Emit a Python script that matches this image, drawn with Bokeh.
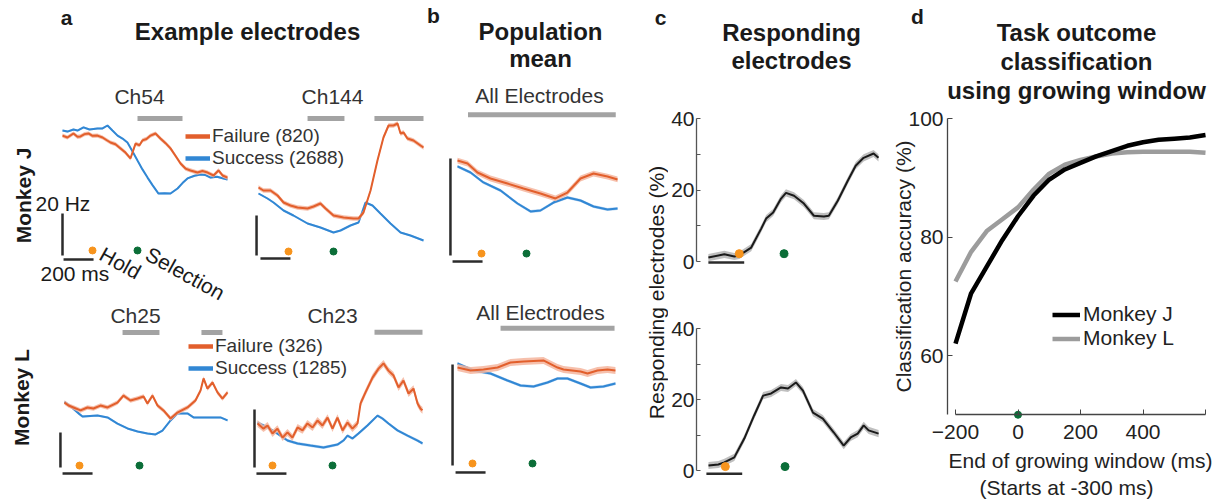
import numpy as np
from bokeh.plotting import figure
from bokeh.models import Range1d, Label, LinearAxis, FixedTicker, Legend, LegendItem, Grid
from bokeh.layouts import row, column
from bokeh.embed import file_html
from bokeh.resources import INLINE

FONT = "Liberation Sans"

# ======================= DATA =======================
outcome_names = ["Failure", "Success"]
trials_monkey_j = [820, 2688]
trials_monkey_l = [326, 1285]
event_names = ["Hold", "Selection"]

# (a) example electrodes, firing rate (Hz) vs time from selection (ms)
ch54_fail_t = [-500, -467, -440, -427, -400, -380, -353, -327, -300, -267, -233, -207, -180, -147, -113, -80, -47,
               -13, 13, 33, 60, 87, 120, 153, 187, 220, 253, 287, 320, 353, 400, 433, 467, 507, 540, 567, 600]
ch54_fail = [57.1, 56.2, 57.5, 58.1, 56.5, 56.7, 57.8, 58.1, 57.0, 57.1, 56.2, 55.0, 53.8, 53.0, 51.0, 49.0, 46.2,
             53.3, 52.5, 54.8, 55.5, 57.1, 58.1, 55.7, 53.5, 51.0, 47.5, 43.8, 41.4, 40.5, 39.5, 40.2, 39.5, 38.1,
             40.5, 38.1, 37.1]
ch54_succ_t = [-500, -467, -427, -400, -360, -320, -267, -233, -200, -167, -133, -100, -67, -33, 0, 33, 67, 100,
               140, 180, 220, 267, 300, 333, 380, 420, 453, 487, 530, 573, 600]
ch54_succ = [59.5, 59.0, 60.0, 59.5, 61.0, 60.0, 60.5, 60.5, 61.9, 59.5, 57.1, 55.7, 53.8, 49.5, 45.2, 41.0, 37.1,
             33.5, 29.5, 29.6, 29.5, 31.9, 34.5, 36.7, 38.0, 38.6, 38.3, 37.1, 37.5, 36.7, 36.2]
ch54_sig = [(0, 300)]

ch144_fail_t = [-500, -467, -420, -373, -333, -287, -240, -173, -133, -87, -53, 0, 67, 133, 167, 200, 247, 293,
                333, 367, 400, 427, 447, 467, 493, 533, 580, 600]
ch144_fail = [34, 32.5, 32.5, 30, 26.5, 25, 24, 23.5, 24.5, 26, 23.5, 20, 19, 18.5, 18.5, 21.5, 32.5, 47.5, 59,
              65, 65, 66, 61, 61.5, 58.5, 57.5, 55, 54]
ch144_succ_t = [-500, -440, -400, -333, -267, -173, -87, 0, 47, 113, 167, 213, 260, 313, 380, 447, 513, 600]
ch144_succ = [31, 28.5, 26.5, 22.5, 20, 16, 14, 11.5, 12.5, 15, 16.5, 26.5, 25, 21, 16, 11.5, 10, 7.5]
ch144_sig = [(-173, 73), (273, 600)]

ch25_fail_t = [-500, -473, -440, -393, -347, -307, -260, -213, -147, -107, -60, -13, 27, 53, 87, 120, 160, 207,
               253, 320, 373, 407, 427, 453, 487, 520, 553, 587]
ch25_fail = [37.1, 35.4, 34.3, 32.6, 34.3, 33.7, 35.4, 34.3, 37.1, 41.1, 38.3, 39.4, 40.6, 36.6, 41.1, 35.4, 32.6,
             28.0, 31.4, 34.3, 38.3, 44.0, 50.9, 45.1, 48.6, 42.9, 39.4, 42.9]
ch25_succ_t = [-500, -453, -400, -380, -280, -213, -147, -80, -13, 53, 107, 153, 207, 253, 320, 360, 407, 473,
               540, 587]
ch25_succ = [37.5, 34.5, 30.5, 29.1, 29.7, 28.6, 25.1, 22.3, 20.6, 19.4, 18.9, 21.1, 26.9, 30.9, 30.9, 28.6, 28.6,
             28.6, 28.6, 26.9]
ch25_sig = [(-113, 133), (413, 553)]

ch23_fail_t = [-500, -460, -433, -400, -367, -333, -300, -267, -233, -200, -167, -133, -100, -67, -33, 0, 33, 67,
               100, 133, 167, 187, 220, 267, 307, 340, 373, 407, 440, 473, 507, 540, 567, 587, 600]
ch23_fail = [15.2, 13.4, 14.5, 11.7, 13.4, 10.3, 12.1, 10.3, 13.8, 12.8, 15.2, 13.8, 16.2, 14.5, 17.2, 13.4, 17.2,
             12.8, 15.5, 13.4, 15.2, 22.1, 25.9, 31.0, 34.1, 35.9, 33.4, 31.7, 27.6, 30.0, 25.5, 27.2, 22.1, 20.3,
             19.7]
ch23_succ_t = [-500, -433, -367, -300, -233, -147, -60, 33, 73, 100, 133, 173, 233, 300, 333, 373, 433, 500, 567,
               600]
ch23_succ = [15.5, 13.8, 11.7, 9.3, 8.3, 7.6, 6.9, 7.9, 9.3, 11.0, 10.0, 11.7, 14.5, 17.9, 16.9, 15.2, 12.8, 11.0,
             9.3, 8.3]
ch23_sig = [(280, 600)]

# (b) population mean (Hz)
pop_j_fail_t = [-460, -393, -327, -240, -127, -20, 93, 193, 273, 360, 447, 540, 607]
pop_j_fail = [9.79, 9.48, 8.56, 7.94, 7.42, 6.91, 6.39, 5.88, 6.49, 7.94, 8.45, 8.14, 7.84]
pop_j_succ_t = [-460, -373, -287, -173, -60, 27, 93, 180, 273, 360, 447, 540, 607]
pop_j_succ = [9.18, 8.56, 7.53, 6.70, 5.36, 4.54, 4.64, 5.46, 5.98, 5.67, 5.05, 4.74, 4.85]
pop_j_sig = [(-390, 595)]

pop_l_fail_t = [-500, -413, -327, -233, -147, -60, 73, 167, 207, 320, 367, 433, 500, 553]
pop_l_fail = [9.70, 9.41, 9.50, 9.70, 10.20, 10.30, 10.40, 9.70, 9.50, 9.31, 9.11, 9.41, 9.50, 9.41]
pop_l_succ_t = [-500, -393, -280, -167, -80, 7, 100, 167, 233, 320, 387, 473, 553]
pop_l_succ = [10.10, 9.41, 9.11, 8.42, 7.92, 7.82, 8.22, 8.61, 8.61, 8.12, 7.72, 7.82, 8.12]
pop_l_sig = [(-213, 547)]

# (c) responding electrodes (%)
resp_j_t = [-507, -400, -333, -300, -220, -153, -120, -73, -20, 13, 67, 133, 200, 267, 300, 360, 427, 480, 533,
            600, 633]
resp_j = [1.1, 2.0, 1.4, 1.7, 3.9, 9.2, 12.0, 13.7, 17.6, 19.2, 18.4, 16.2, 12.8, 12.6, 12.8, 17.0, 22.6, 26.8,
          29.0, 30.2, 29.0]
resp_l_t = [-513, -447, -407, -340, -273, -207, -147, -93, -27, 20, 73, 120, 187, 253, 327, 393, 440, 487, 527,
            560, 627]
resp_l = [1.4, 1.7, 2.3, 3.7, 9.0, 15.5, 21.1, 21.7, 23.4, 23.1, 24.8, 22.5, 16.3, 14.6, 10.7, 7.0, 9.3, 10.4,
          12.7, 11.3, 10.4]
resp_ticks = [0, 20, 40]
resp_minor_ticks = [10, 30]

# (d) classification accuracy (%) vs end of growing window (ms)
window_end_ms = [-200, -150, -100, -50, 0, 50, 100, 150, 200, 250, 300, 350, 400, 450, 500, 550, 600]
acc_monkey_j = [62.0, 70.5, 75.0, 79.5, 83.5, 87.0, 89.7, 91.4, 92.5, 93.6, 94.5, 95.4, 96.0, 96.4, 96.6, 96.8, 97.2]
acc_monkey_l = [72.5, 77.5, 81.0, 83.0, 85.0, 88.0, 90.7, 92.2, 93.0, 93.6, 94.1, 94.3, 94.4, 94.4, 94.4, 94.4, 94.2]
d_xticks = [-200, 0, 200, 400, 600]
d_yticks = [60, 80, 100]

# ======================= STYLE / LAYOUT =======================
ORANGE, ORANGE_BAND = "#e25f2c", "#f4b59d"
BLUE, BLUE_BAND = "#3187d4", "#a9cdee"
HOLD_C, SEL_C = "#f7941d", "#0b6e38"
SIG_C, BAR_C = "#a3a3a3", "#2b2b2b"
TXT = "#1a1a1a"
H = 502
MAIN_W, C_W, D_W = 668, 222, 330
SX = 0.15        # px per ms in panels a-c
BASE_FIX = 7     # alphabetic baseline correction (px)


def clear_grids(fig):
    for g in fig.center:
        if isinstance(g, Grid):
            g.visible = False


def label(fig, fl, fb, X, Y, text, size=21, bold=False, align="center", baseline="alphabetic", angle=0,
          color=TXT):
    if baseline == "alphabetic":
        Y = Y - BASE_FIX
    fig.add_layout(Label(x=X - fl, y=fb - Y, x_units="screen", y_units="screen", text=text, text_font=FONT,
                         text_font_size=f"{size}px", text_font_style="bold" if bold else "normal",
                         text_align=align, text_baseline=baseline, angle=angle, angle_units="deg",
                         text_color=color))


def trace(fig, t, v, sem, color, band, width=2.0, **kw):
    t = np.asarray(t, float)
    v = np.asarray(v, float)
    fig.varea(x=t, y1=v - sem, y2=v + sem, fill_color=band, fill_alpha=0.85, **kw)
    return fig.line(t, v, line_color=color, line_width=width, **kw)


# ---------------- main figure (panels a, b) ----------------
main = figure(width=MAIN_W, height=H, x_range=Range1d(0, MAIN_W), y_range=Range1d(0, H),
              x_axis_location=None, y_axis_location=None, toolbar_location=None,
              output_backend="svg", min_border=0, outline_line_color=None)
clear_grids(main)
ML, MB = 0, H   # frame left / bottom in page px

panels = [
    dict(name="ch54", ft=ch54_fail_t, f=ch54_fail, st=ch54_succ_t, s=ch54_succ, sig=ch54_sig, x0=137, y0=255,
         sy=2.1, semf=1.0, sems=0.5, hold=-300, doty=2.4, vt=-500, vh=20, ht=-493, hy=-1.9, sigy=65.2),
    dict(name="ch144", ft=ch144_fail_t, f=ch144_fail, st=ch144_succ_t, s=ch144_succ, sig=ch144_sig, x0=333,
         y0=255, sy=2.0, semf=1.1, sems=0.5, hold=-300, doty=2.0, vt=-513, vh=20, ht=-487, hy=-1.5, sigy=68.5),
    dict(name="ch25", ft=ch25_fail_t, f=ch25_fail, st=ch25_succ_t, s=ch25_succ, sig=ch25_sig, x0=139, y0=467,
         sy=1.75, semf=1.3, sems=0.6, hold=-400, doty=1.1, vt=-527, vh=20, ht=-513, hy=-3.4, sigy=77.1),
    dict(name="ch23", ft=ch23_fail_t, f=ch23_fail, st=ch23_succ_t, s=ch23_succ, sig=ch23_sig, x0=332, y0=467,
         sy=2.9, semf=1.2, sems=0.5, hold=-400, doty=0.7, vt=-520, vh=20, ht=-507, hy=-2.1, sigy=46.6),
    dict(name="popj", ft=pop_j_fail_t, f=pop_j_fail, st=pop_j_succ_t, s=pop_j_succ, sig=pop_j_sig, x0=526,
         y0=255, sy=9.7, semf=0.3, sems=0.15, hold=-300, doty=0.2, vt=-507, vh=10, ht=-493, hy=-0.62, sigy=14.5),
    dict(name="popl", ft=pop_l_fail_t, f=pop_l_fail, st=pop_l_succ_t, s=pop_l_succ, sig=pop_l_sig, x0=532,
         y0=465, sy=10.1, semf=0.35, sems=0.15, hold=-400, doty=0.2, vt=-533, vh=10, ht=-513, hy=-0.69,
         sigy=13.6),
]

legend_renderers = {}
for pnl in panels:
    nm = pnl["name"]
    main.extra_x_ranges[nm] = Range1d(-(pnl["x0"] - ML) / SX, (MAIN_W - (pnl["x0"] - ML)) / SX)
    yb = MB - pnl["y0"]
    main.extra_y_ranges[nm] = Range1d(-yb / pnl["sy"], (H - yb) / pnl["sy"])
    kw = dict(x_range_name=nm, y_range_name=nm)
    main.segment(x0=[a for a, b in pnl["sig"]], x1=[b for a, b in pnl["sig"]],
                 y0=[pnl["sigy"]] * len(pnl["sig"]), y1=[pnl["sigy"]] * len(pnl["sig"]),
                 line_color=SIG_C, line_width=5, line_cap="butt", **kw)
    trace(main, pnl["st"], pnl["s"], pnl["sems"], BLUE, BLUE_BAND, **kw)
    trace(main, pnl["ft"], pnl["f"], pnl["semf"], ORANGE, ORANGE_BAND, **kw)
    main.segment(x0=[pnl["vt"], pnl["ht"]], x1=[pnl["vt"], pnl["ht"] + 200], y0=[0, pnl["hy"]],
                 y1=[pnl["vh"], pnl["hy"]], line_color=BAR_C, line_width=2.5, **kw)
    main.scatter(x=[pnl["hold"], 0], y=[pnl["doty"]] * 2, color=[HOLD_C, SEL_C], size=7, **kw)
    if nm in ("ch54", "ch25"):
        # legend keys (thicker than the traces, as in the original legend)
        rf = main.line(x=[np.nan], y=[np.nan], line_color=ORANGE, line_width=4.5, **kw)
        rs = main.line(x=[np.nan], y=[np.nan], line_color=BLUE, line_width=4.5, **kw)
        legend_renderers[nm] = (rf, rs)

for nm, counts, loc in (("ch54", trials_monkey_j, (185, H - 169)), ("ch25", trials_monkey_l, (188, H - 379))):
    rf, rs = legend_renderers[nm]
    lg = Legend(items=[LegendItem(label=f"{outcome_names[0]} ({counts[0]})", renderers=[rf]),
                       LegendItem(label=f"{outcome_names[1]} ({counts[1]})", renderers=[rs])],
                location=loc, label_text_font=FONT, label_text_font_size="19px", label_text_color="#333333",
                glyph_width=25, glyph_height=18, label_height=18, spacing=0, padding=0, margin=0,
                label_standoff=2, background_fill_alpha=0, border_line_alpha=0)
    main.add_layout(lg)

label(main, ML, MB, 66, 24, "a", 21, bold=True)
label(main, ML, MB, 247, 38, "Example electrodes", 24, bold=True)
label(main, ML, MB, 433, 22, "b", 21, bold=True)
label(main, ML, MB, 540, 37.5, "Population", 24, bold=True)
label(main, ML, MB, 540, 65, "mean", 24, bold=True)
label(main, ML, MB, 660, 24, "c", 21, bold=True)
label(main, ML, MB, 23, 195, "Monkey J", 21, bold=True, baseline="middle", angle=90)
label(main, ML, MB, 21, 397, "Monkey L", 21, bold=True, baseline="middle", angle=90)
label(main, ML, MB, 139, 103, "Ch54", 21, color="#333333")
label(main, ML, MB, 332, 103, "Ch144", 21, color="#333333")
label(main, ML, MB, 135, 321.5, "Ch25", 21, color="#333333")
label(main, ML, MB, 332, 321.5, "Ch23", 21, color="#333333")
label(main, ML, MB, 539, 102, "All Electrodes", 21, color="#333333")
label(main, ML, MB, 540, 319, "All Electrodes", 21, color="#333333")
label(main, ML, MB, 35, 210, "20 Hz", 21, align="left")
label(main, ML, MB, 40, 280, "200 ms", 21, align="left")
label(main, ML, MB, 101, 252, event_names[0], 21, align="left", baseline="middle", angle=-29)
label(main, ML, MB, 147, 252, event_names[1], 21, align="left", baseline="middle", angle=-29)
label(main, ML, MB, 656, 292, "Responding electrodes (%)", 21, baseline="middle", angle=90)


# ---------------- panel c ----------------
def make_c(height, top_b, bot_b, x0, y0, y_top_frame, y_bot_frame, sy, t, v, hold, doty, ht, hy):
    fl, fr = 695, MAIN_W + C_W
    f = figure(width=C_W, height=height,
               x_range=Range1d(-(x0 - fl) / SX, (fr - x0) / SX),
               y_range=Range1d(-(y_bot_frame - y0) / sy, (y0 - y_top_frame) / sy),
               x_axis_location=None, y_axis_location=None, toolbar_location=None, output_backend="svg",
               min_border_left=fl - MAIN_W, min_border_right=0, min_border_top=top_b,
               min_border_bottom=bot_b, outline_line_color=None)
    clear_grids(f)
    ax = LinearAxis(ticker=FixedTicker(ticks=resp_ticks, minor_ticks=resp_minor_ticks), bounds=(0, 40),
                    axis_line_color="#555555", axis_line_width=1.3, major_tick_line_color="#555555",
                    minor_tick_line_color="#555555", major_tick_in=4, major_tick_out=0, minor_tick_in=4,
                    minor_tick_out=0, major_label_standoff=2, major_label_text_font=FONT,
                    major_label_text_font_size="21px", major_label_text_color="#222222")
    f.add_layout(ax, "left")
    trace(f, t, v, 1.0, "#1a1a1a", "#b4b4b4", width=2.0)
    f.segment(x0=[ht], x1=[ht + 240], y0=[hy], y1=[hy], line_color=BAR_C, line_width=2.5)
    f.scatter(x=[hold, 0], y=[doty, doty], color=[HOLD_C, SEL_C], size=8)
    return f, fl, y_bot_frame


c1, c1l, c1b = make_c(292, 0, 12, 783, 261, 0, 280, 3.575, resp_j_t, resp_j, -300, 2.2, -507, -0.3)
label(c1, c1l, c1b, 790, 39, "Responding", 24, bold=True)
label(c1, c1l, c1b, 790, 67, "electrodes", 24, bold=True)
c2, _, _ = make_c(H - 292, 8, 12, 784, 470, 300, 490, 3.55, resp_l_t, resp_l, -400, 1.1, -527, -0.9)

# ---------------- panel d ----------------
DL = MAIN_W + C_W          # canvas (= frame) left
dsx = (1205 - 955) / 800.0  # px per ms
dsy = (355 - 118) / 40.0    # px per %
x_start = -200 - (955 - DL) / dsx
x_end = -200 + (DL + D_W - 955) / dsx
y_end = 100 + 118 / dsy
y_start = 100 - (H - 118) / dsy
d = figure(width=D_W, height=H, x_range=Range1d(x_start, x_end), y_range=Range1d(y_start, y_end),
           toolbar_location=None, output_backend="svg", outline_line_color=None, min_border=0)
clear_grids(d)
for ax in (d.xaxis[0], d.yaxis[0]):
    ax.axis_line_color = "#444444"
    ax.axis_line_width = 1.3
    ax.major_tick_line_color = "#444444"
    ax.major_tick_in = 5
    ax.major_tick_out = 0
    ax.minor_tick_line_color = None
    ax.major_label_text_font = FONT
    ax.major_label_text_font_size = "21px"
    ax.major_label_text_color = "#222222"
    ax.axis_label_text_font = FONT
    ax.axis_label_text_font_size = "21px"
    ax.axis_label_text_font_style = "normal"
    ax.axis_label_text_color = "#222222"
d.xaxis.ticker = FixedTicker(ticks=d_xticks)
d.xaxis.major_label_overrides = {600: ""}
d.xaxis.bounds = (-200, 600)
d.xaxis.fixed_location = 50
d.xaxis.major_label_standoff = 10
d.xaxis.axis_label = "End of growing window (ms)"
d.xaxis.axis_label_standoff = 7
d.yaxis.ticker = FixedTicker(ticks=d_yticks)
d.yaxis.bounds = (50, 100)
d.yaxis.fixed_location = -200 - (955 - 947) / dsx
d.yaxis.major_label_standoff = 4
d.yaxis.axis_label = "Classification accuracy (%)"
d.yaxis.axis_label_standoff = -10

rL = d.line(window_end_ms, acc_monkey_l, line_color="#9c9c9c", line_width=4.5)
rJ = d.line(window_end_ms, acc_monkey_j, line_color="#000000", line_width=4.5)
d.scatter(x=[0], y=[50], color=SEL_C, size=7)
d.add_layout(Legend(items=[LegendItem(label="Monkey J", renderers=[rJ]), LegendItem(label="Monkey L", renderers=[rL])],
                    location=(1052 - DL, H - 350), label_text_font=FONT, label_text_font_size="21px",
                    label_text_color="#222222", glyph_width=28, glyph_height=19, label_height=19, spacing=0,
                    padding=0, margin=0, label_standoff=3, background_fill_alpha=0, border_line_alpha=0))
label(d, DL, H, 917, 22.7, "d", 21, bold=True)
label(d, DL, H, 1076, 39.3, "Task outcome", 24, bold=True)
label(d, DL, H, 1076, 68, "classification", 24, bold=True)
label(d, DL, H, 1076, 97, "using growing window", 24, bold=True)
label(d, DL, H, 1066, 494, "(Starts at -300 ms)", 21, color="#222222")

layout = row(column(main), column(c1, c2), column(d))
open("out.html", "w").write(file_html(layout, INLINE))
